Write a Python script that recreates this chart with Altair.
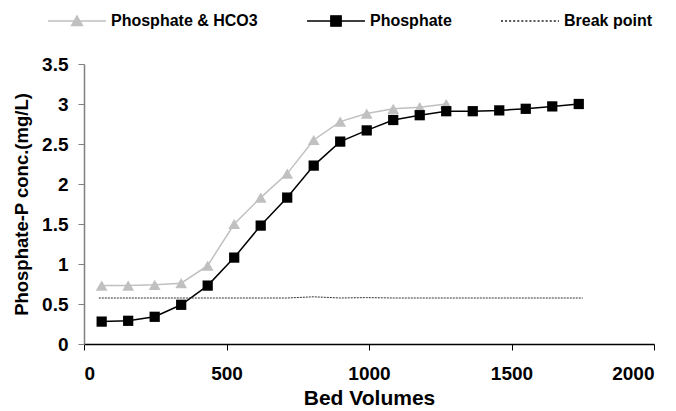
import altair as alt
import pandas as pd

bed_volumes = [62, 155, 248, 341, 434, 527, 620, 713, 806, 899, 992, 1085,
               1178, 1271, 1364, 1457, 1550, 1643, 1736]
phosphate = [0.28, 0.29, 0.34, 0.49, 0.73, 1.08, 1.48, 1.83, 2.23, 2.53, 2.67,
             2.80, 2.86, 2.91, 2.91, 2.92, 2.94, 2.97, 3.00]
phos_hco3 = [0.73, 0.73, 0.74, 0.76, 0.98, 1.50, 1.83, 2.13, 2.55, 2.78, 2.88,
             2.94, 2.96, 3.00]
break_x = [52, 434, 713, 806, 899, 992, 1085, 1750]
break_y = [0.575, 0.575, 0.575, 0.59, 0.575, 0.58, 0.575, 0.575]

series = ["Phosphate & HCO3", "Phosphate", "Break point"]

rows = []
for x, y in zip(bed_volumes[:len(phos_hco3)], phos_hco3):
    rows.append({"bv": x, "c": y, "s": series[0]})
for x, y in zip(bed_volumes, phosphate):
    rows.append({"bv": x, "c": y, "s": series[1]})
for x, y in zip(break_x, break_y):
    rows.append({"bv": x, "c": y, "s": series[2]})
df = pd.DataFrame(rows)

xenc = alt.X("bv:Q", scale=alt.Scale(domain=[0, 2000]),
             axis=alt.Axis(values=[0, 500, 1000, 1500, 2000], title="Bed Volumes",
                           format="d", labelFontSize=19, titleFontSize=21, labelPadding=14,
                           titlePadding=4, tickSize=6, domainColor="#000000",
                           tickColor="#000000", grid=False))
yenc = alt.Y("c:Q", scale=alt.Scale(domain=[0, 3.5]),
             axis=alt.Axis(values=[0, 0.5, 1, 1.5, 2, 2.5, 3, 3.5], format="~g",
                           title="Phosphate-P conc.(mg/L)", labelFontSize=19,
                           titleFontSize=18.5, labelPadding=10, titlePadding=10,
                           tickSize=6, domainColor="#808080", tickColor="#808080",
                           grid=False))

base = alt.Chart(df)

line_hco3 = base.transform_filter(alt.datum.s == series[0]).mark_line(
    color="#c0c0c0", strokeWidth=1.5).encode(x=xenc, y=yenc)
line_phos = base.transform_filter(alt.datum.s == series[1]).mark_line(
    color="#000000", strokeWidth=1.5).encode(x=xenc, y=yenc)
line_break = base.transform_filter(alt.datum.s == series[2]).mark_line(
    color="#333333", strokeWidth=1, strokeDash=[2, 1]).encode(x=xenc, y=yenc)

tri = base.transform_filter(alt.datum.s == series[0]).mark_point(
    shape="triangle-up", filled=True, color="#c0c0c0", size=140, opacity=1
).encode(x=xenc, y=yenc)

sq = base.transform_filter(alt.datum.s == series[1]).mark_point(
    shape="square", filled=True, color="#000000", size=105, opacity=1
).encode(x=xenc, y=yenc)

legend_paths = [
    "M-1,0H1M-0.19,0.16L0,-0.18L0.19,0.16Z",
    "M-1,0H1M-0.18,-0.18H0.18V0.18H-0.18Z",
    "M-1,0H-0.93M-0.86,0H-0.79M-0.72,0H-0.65M-0.58,0H-0.51M-0.44,0H-0.37M-0.3,0H-0.23M-0.16,0H-0.09M-0.02,0H0.05M0.12,0H0.19M0.26,0H0.33M0.4,0H0.47M0.54,0H0.61M0.68,0H0.75M0.82,0H0.89M0.96,0H1",
]
leg = alt.Legend(title=None, orient="none", legendX=-37, legendY=-73,
                 direction="horizontal",
                 labelFontSize=16, labelFont="Liberation Sans",
                 labelFontWeight="bold", labelColor="#000000", symbolSize=3364,
                 symbolStrokeWidth=1.3, symbolOpacity=1, columnPadding=46, labelOffset=4)
legend_layer = base.transform_filter(alt.datum.s == series[2]).mark_point(
    filled=True, opacity=0
).encode(
    x=xenc, y=yenc,
    fill=alt.Fill("s:N", scale=alt.Scale(domain=series, range=["#c0c0c0", "#000000", "#ffffff"]), legend=leg),
    stroke=alt.Stroke("s:N", scale=alt.Scale(domain=series, range=["#c0c0c0", "#000000", "#222222"]), legend=leg),
    shape=alt.Shape("s:N", scale=alt.Scale(domain=series, range=legend_paths), legend=leg),
)

chart = alt.layer(line_hco3, line_phos, line_break, tri, sq, legend_layer).properties(
    width=570, height=280,
    background="white",
    autosize=alt.AutoSizeParams(type="none"),
    padding={"left": 76, "top": 56, "right": 14, "bottom": 70},
).configure_view(stroke=None).configure_axis(
    grid=False, labelFont="Liberation Sans", titleFont="Liberation Sans",
    labelFontWeight="bold", titleFontWeight="bold", labelColor="#000000",
    titleColor="#000000", domainWidth=1.5,
)

chart.save("out.html", embed_options={"renderer": "svg", "actions": False})
